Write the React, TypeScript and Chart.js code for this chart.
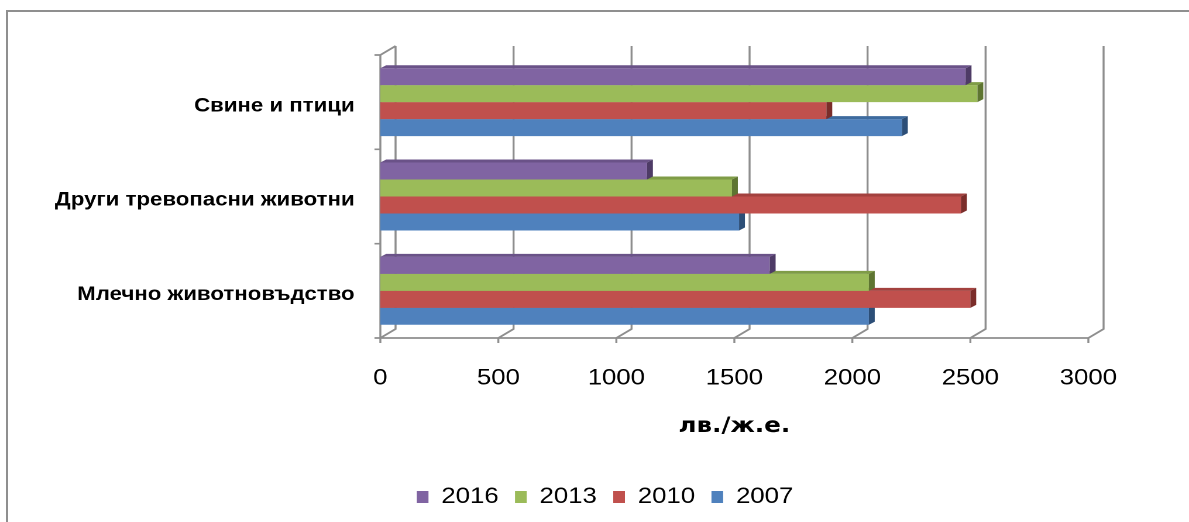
import React, { useEffect, useRef } from "react";
import { Chart, registerables } from "chart.js";

Chart.register(...registerables);

// ---- data ----
const categories = ["Свине и птици", "Други тревопасни животни", "Млечно животновъдство"];
const years = ["2016", "2013", "2010", "2007"];
const values2016 = [2480, 1130, 1650];
const values2013 = [2530, 1490, 2070];
const values2010 = [1890, 2460, 2500];
const values2007 = [2210, 1520, 2070];
const xTicks = [0, 500, 1000, 1500, 2000, 2500, 3000];
const axisTitle = "лв./ж.е.";

// ---- styles ----
const colors = ["#8064A2", "#9BBB59", "#C0504D", "#4F81BD"];
const topColors = ["#6A5288", "#7F9C47", "#A3413E", "#3E6B9E"];
const sideColors = ["#4E3B66", "#5E7531", "#7B2D2A", "#2C4E77"];
const FONT = "'Liberation Sans', Arial, sans-serif";
const LW = 1016;
const SX = 1189 / LW;
const DX = 13;
const DY = 9;
const BDX = 5;
const BDY = 3;
const LEGEND_LEFT = 104;

const wallPlugin = {
  id: "wall3d",
  afterLayout(chart: any) {
    if (chart.legend) chart.legend.left = LEGEND_LEFT;
  },
  beforeDatasetsDraw(chart: any) {
    const { ctx, chartArea } = chart;
    const xs = chart.scales.x;
    const ys = chart.scales.y;
    const top = chartArea.top;
    const bottom = chartArea.bottom;
    const x0 = xs.getPixelForValue(xTicks[0]);
    const xN = xs.getPixelForValue(xTicks[xTicks.length - 1]);
    ctx.save();
    ctx.strokeStyle = "#8e8e8e";
    ctx.lineWidth = 1.7;
    ctx.beginPath();
    xTicks.forEach((v) => {
      const x = xs.getPixelForValue(v);
      ctx.moveTo(x + DX, top - DY);
      ctx.lineTo(x + DX, bottom - DY);
      ctx.lineTo(x, bottom);
      ctx.moveTo(x, bottom);
      ctx.lineTo(x, bottom + 5);
    });
    ctx.moveTo(x0, bottom);
    ctx.lineTo(xN, bottom);
    ctx.moveTo(x0 + DX, top - DY);
    ctx.lineTo(x0, top);
    ctx.lineTo(x0, bottom);
    const n = categories.length;
    const bounds: number[] = [top];
    for (let i = 0; i < n - 1; i++) {
      bounds.push((ys.getPixelForValue(i) + ys.getPixelForValue(i + 1)) / 2);
    }
    bounds.push(bottom);
    bounds.forEach((b) => {
      ctx.moveTo(x0 - 5, b);
      ctx.lineTo(x0, b);
    });
    ctx.stroke();
    ctx.restore();
  },
};

const barPlugin = {
  id: "bar3d",
  afterDatasetDraw(chart: any, args: any) {
    const meta = args.meta;
    const i = args.index;
    const ctx = chart.ctx;
    ctx.save();
    meta.data.forEach((el: any) => {
      const { x, y, base, height } = el.getProps(["x", "y", "base", "height"], true);
      const yt = y - height / 2;
      const yb = y + height / 2;
      const x1 = Math.max(x, base);
      const x0 = Math.min(x, base);
      ctx.fillStyle = topColors[i];
      ctx.beginPath();
      ctx.moveTo(x0, yt);
      ctx.lineTo(x0 + BDX, yt - BDY);
      ctx.lineTo(x1 + BDX, yt - BDY);
      ctx.lineTo(x1, yt);
      ctx.closePath();
      ctx.fill();
      ctx.fillStyle = sideColors[i];
      ctx.beginPath();
      ctx.moveTo(x1, yt);
      ctx.lineTo(x1 + BDX, yt - BDY);
      ctx.lineTo(x1 + BDX, yb - BDY);
      ctx.lineTo(x1, yb);
      ctx.closePath();
      ctx.fill();
    });
    ctx.restore();
  },
};

export default function App() {
  const ref = useRef<HTMLCanvasElement>(null);
  useEffect(() => {
    const series = [values2016, values2013, values2010, values2007];
    const chart = new Chart(ref.current as HTMLCanvasElement, {
      type: "bar",
      data: {
        labels: categories,
        datasets: years.map((yr, i) => ({
          label: yr,
          data: series[i],
          backgroundColor: colors[i],
          borderWidth: 0,
          categoryPercentage: 0.72,
          barPercentage: 1.0,
        })),
      },
      options: {
        animation: false,
        responsive: true,
        maintainAspectRatio: false,
        devicePixelRatio: 2,
        indexAxis: "y",
        layout: { padding: { left: 0, right: 86, top: 55, bottom: 4 } },
        scales: {
          x: {
            type: "linear",
            min: 0,
            max: 3000,
            afterBuildTicks: (s: any) => {
              s.ticks = xTicks.map((v) => ({ value: v }));
            },
            grid: { display: false, drawTicks: false },
            border: { display: false },
            ticks: {
              padding: 27,
              color: "#000",
              font: { family: FONT, size: 22 },
              callback: (v: any) => String(v),
            },
            title: {
              display: true,
              text: axisTitle,
              color: "#000",
              font: { family: "'DejaVu Sans', Verdana, sans-serif", size: 21, weight: "bold" },
              padding: { top: 0, bottom: 33 },
            },
            afterFit: (s: any) => {
              s.height = 134;
            },
          },
          y: {
            grid: { display: false, drawTicks: false },
            border: { display: false },
            ticks: {
              padding: 22,
              labelOffset: 4,
              color: "#000",
              font: { family: FONT, size: 19, weight: "bold" },
            },
            afterFit: (s: any) => {
              s.width = 325;
            },
          },
        },
        plugins: {
          legend: {
            position: "bottom",
            labels: {
              boxWidth: 10,
              boxHeight: 12,
              padding: 14,
              color: "#000",
              font: { family: FONT, size: 22 },
            },
          },
          tooltip: { enabled: false },
        },
      } as any,
      plugins: [wallPlugin, barPlugin],
    });
    return () => chart.destroy();
  }, []);

  return (
    <div
      style={{
        position: "absolute",
        left: 0,
        top: 0,
        width: 1189,
        height: 522,
        overflow: "hidden",
        background: "#fff",
      }}
    >
      <div
        style={{
          position: "absolute",
          left: 6,
          top: 10,
          width: 1300,
          height: 600,
          borderLeft: "2px solid #8f8f8f",
          borderTop: "2px solid #8f8f8f",
        }}
      />
      <div
        style={{
          position: "absolute",
          left: 0,
          top: 0,
          width: LW,
          height: 522,
          transform: `scaleX(${SX})`,
          transformOrigin: "0 0",
        }}
      >
        <canvas ref={ref} />
      </div>
    </div>
  );
}
